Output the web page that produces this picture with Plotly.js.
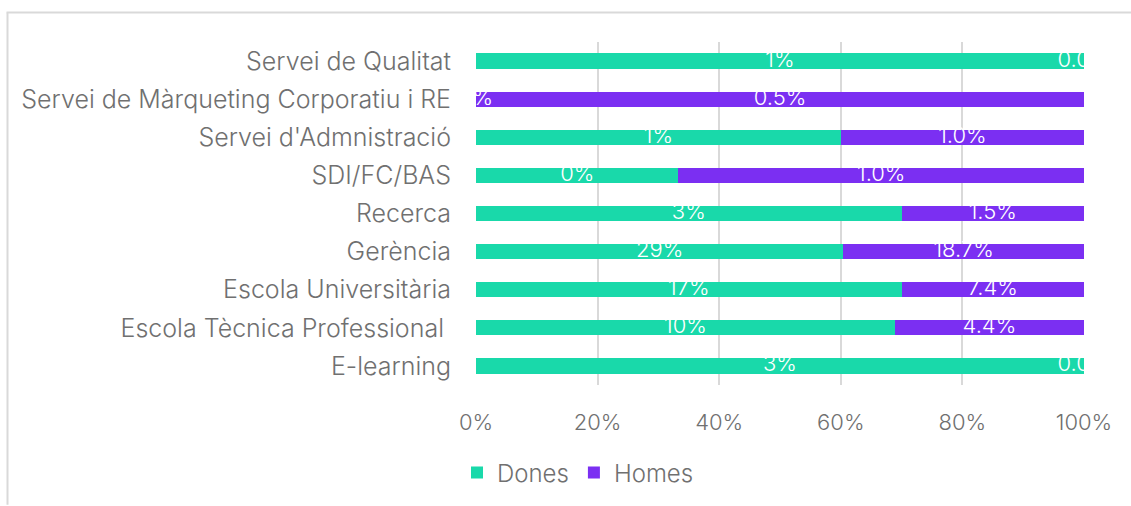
<!DOCTYPE html>
<html>
<head>
<meta charset="utf-8">
<script src="https://cdn.plot.ly/plotly-3.0.1.min.js"></script>
<style>
html,body{margin:0;padding:0;background:#fff;}
#chart{width:1131px;height:506px;}
</style>
</head>
<body>
<div id="chart"></div>
<script>
// Categories, top to bottom
const categories = [
  "Servei de Qualitat",
  "Servei de Màrqueting Corporatiu i RE",
  "Servei d'Admnistració",
  "SDI/FC/BAS",
  "Recerca",
  "Gerència",
  "Escola Universitària",
  "Escola Tècnica Professional ",
  "E-learning"
];
// Share of each row (percent of the row total)
const donesShare = [100, 0, 60, 33.3, 70, 60.4, 70, 68.9, 100];
const homesShare = [0, 100, 40, 66.7, 30, 39.6, 30, 31.1, 0];
// Data labels as shown
const donesLabels = ["1%", "0%", "1%", "0%", "3%", "29%", "17%", "10%", "3%"];
const homesLabels = ["0.0%", "0.5%", "1.0%", "1.0%", "1.5%", "18.7%", "7.4%", "4.4%", "0.0%"];
const xTicks = [0, 20, 40, 60, 80, 100];

const colDones = "#19d9aa";
const colHomes = "#7b2ff2";
const fontFam = "Inter, Roboto, sans-serif";
const txtCol = "#707070";

const donesCenters = donesShare.map(v => v / 2);
const homesCenters = homesShare.map((v, i) => donesShare[i] + v / 2);

const labelFont = {color: "#ffffff", size: 22, family: fontFam, weight: 300};

const traces = [
  {type: "bar", orientation: "h", name: "Dones", y: categories, x: donesShare,
   marker: {color: colDones}, hoverinfo: "skip"},
  {type: "bar", orientation: "h", name: "Homes", y: categories, x: homesShare,
   marker: {color: colHomes}, hoverinfo: "skip"},
  {type: "scatter", mode: "text", y: categories, x: donesCenters, text: donesLabels,
   textposition: "middle center", cliponaxis: true, showlegend: false, hoverinfo: "skip",
   textfont: labelFont},
  {type: "scatter", mode: "text", y: categories, x: homesCenters, text: homesLabels,
   textposition: "middle center", cliponaxis: true, showlegend: false, hoverinfo: "skip",
   textfont: labelFont}
];

const L = 476, R = 47, T = 42, B = 120;
const W = 1131, H = 506;
const pw = W - L - R, ph = H - T - B;
const px2x = p => (p - L) / pw;
const py2y = p => 1 - (p - T) / ph;

const layout = {
  width: W, height: H,
  margin: {l: L, r: R, t: T, b: B, pad: 0},
  paper_bgcolor: "#ffffff", plot_bgcolor: "#ffffff",
  barmode: "stack",
  bargap: 0.6,
  font: {family: fontFam, color: txtCol, size: 22, weight: 300},
  xaxis: {
    range: [0, 100], tickvals: xTicks, ticktext: xTicks.map(v => v + "%"),
    showgrid: true, gridcolor: "#d9d9d9", gridwidth: 2, zeroline: false,
    showline: false, ticks: "", ticklabelstandoff: 22,
    tickfont: {size: 22, color: txtCol, family: fontFam, weight: 300},
    fixedrange: true
  },
  yaxis: {
    type: "category", autorange: "reversed", showgrid: false, zeroline: false,
    showline: false, ticks: "", ticklabelstandoff: 24,
    tickfont: {size: 25, color: txtCol, family: fontFam, weight: 300},
    fixedrange: true
  },
  legend: {
    orientation: "h", x: px2x(578), xanchor: "center", y: py2y(473), yanchor: "middle",
    font: {size: 24, color: txtCol, family: fontFam, weight: 300},
    itemwidth: 30, traceorder: "normal", bgcolor: "rgba(0,0,0,0)"
  },
  shapes: [
    {type: "line", xref: "paper", yref: "paper", x0: px2x(7.5), x1: px2x(7.5),
     y0: py2y(12.5), y1: py2y(506), line: {color: "#d9d9d9", width: 2}, layer: "below"},
    {type: "line", xref: "paper", yref: "paper", x0: px2x(6.5), x1: px2x(1131),
     y0: py2y(12.5), y1: py2y(12.5), line: {color: "#d9d9d9", width: 2}, layer: "below"}
  ],
  showlegend: true
};

Plotly.newPlot("chart", traces, layout, {displayModeBar: false, staticPlot: true});
</script>
</body>
</html>
